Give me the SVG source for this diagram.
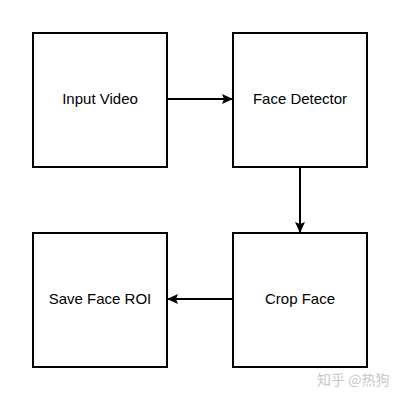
<svg xmlns="http://www.w3.org/2000/svg" width="400" height="400" viewBox="0 0 400 400">
<style>
.box{fill:#fff;stroke:#000;stroke-width:2}
.lbl{font-family:"Liberation Sans",Arial,sans-serif;font-size:15px;fill:#000;text-anchor:middle;dominant-baseline:central}
.edge{stroke:#000;stroke-width:2;fill:none;marker-end:url(#arr)}
.wm{font-family:"Noto Sans CJK SC","Liberation Sans",sans-serif;font-size:14px;fill:#c8c8c8}
</style>
<defs>
<marker id="arr" markerWidth="12" markerHeight="12" refX="10" refY="6" orient="auto" markerUnits="userSpaceOnUse">
<path d="M0,1 L11,6 L0,11 L2,6 Z" fill="#000"/>
</marker>
</defs>
<rect width="400" height="400" fill="#fff"/>
<g id="input-video"><rect class="box" x="33" y="33" width="134" height="134"/><text class="lbl" x="100" y="98">Input Video</text></g>
<g id="face-detector"><rect class="box" x="233" y="33" width="134" height="134"/><text class="lbl" x="300" y="98">Face Detector</text></g>
<g id="crop-face"><rect class="box" x="233" y="233" width="134" height="134"/><text class="lbl" x="300" y="298">Crop Face</text></g>
<g id="save-face-roi"><rect class="box" x="33" y="233" width="134" height="134"/><text class="lbl" x="100" y="298">Save Face ROI</text></g>
<g id="connectors">
<line class="edge" x1="167" y1="99" x2="232" y2="99"/>
<line class="edge" x1="300" y1="167" x2="300" y2="232"/>
<line class="edge" x1="233" y1="299" x2="168" y2="299"/>
</g>
<text class="wm" x="317" y="385">知乎 @热狗</text>
</svg>
